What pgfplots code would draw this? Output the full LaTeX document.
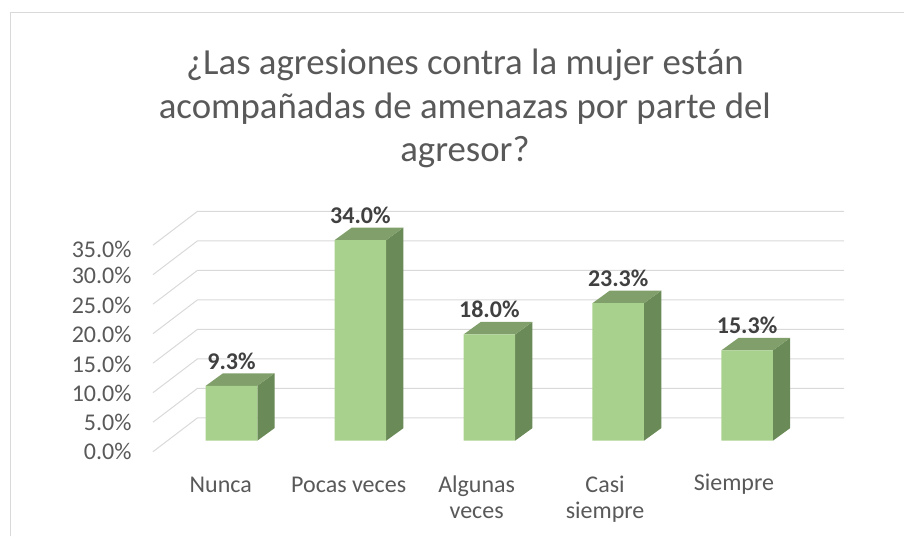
\documentclass[border=0pt]{standalone}
\usepackage{fontspec}
\setmainfont{Carlito}
\usepackage{pgfplots}
\pgfplotsset{compat=1.18}
\definecolor{frontc}{HTML}{A9D18E}
\definecolor{sidec}{HTML}{6A8A57}
\definecolor{topc}{HTML}{809F6A}
\definecolor{gridc}{HTML}{D9D9D9}
\definecolor{txtc}{HTML}{595959}
\definecolor{labc}{HTML}{404040}
\newcommand\fs[1]{\fontsize{#1}{#1}\selectfont}
% 3D faces of a bar: #1 = category index, #2 = value
\newcommand\barthreed[2]{%
  \pgfmathsetmacro\xl{#1-0.2}%
  \pgfmathsetmacro\xr{#1+0.2}%
  \pgfmathsetmacro\xb{#1+0.334}%
  \pgfmathsetmacro\xbl{#1-0.066}%
  \pgfmathsetmacro\vt{#2+2.13}%
  \edef\tmp{%
    \noexpand\addplot[fill=sidec,draw=none,forget plot] coordinates {(\xr,0) (\xb,2.13) (\xb,\vt) (\xr,#2)};
    \noexpand\addplot[fill=topc,draw=none,forget plot] coordinates {(\xl,#2) (\xr,#2) (\xb,\vt) (\xbl,\vt)};
  }\tmp}
% gridline at value #1: diagonal on the left, then back wall
\newcommand\gridthreed[1]{%
  \pgfmathsetmacro\gf{#1-1.86}%
  \pgfmathsetmacro\gb{#1+3.87}%
  \edef\tmp{%
    \noexpand\addplot[gridc,line width=1pt,forget plot] coordinates {(-0.609,\gf) (-0.264,\gb) (4.752,\gb)};
  }\tmp}
\begin{document}
\begin{tikzpicture}
\begin{axis}[
  width=905pt, height=537pt, scale only axis,
  xmin=-1.796, xmax=5.225, ymin=-16.32, ymax=74.69,
  hide axis, clip=false,
]
% bounding box
\addplot[draw=none,forget plot] coordinates {(-1.796,-16.32) (5.225,74.69)};
% chart border
\addplot[gridc,line width=1pt,forget plot] coordinates {(-1.718,-16.2) (-1.718,72.65) (5.22,72.65)};
% gridlines
\gridthreed{0}\gridthreed{5}\gridthreed{10}\gridthreed{15}
\gridthreed{20}\gridthreed{25}\gridthreed{30}\gridthreed{35}
% bars
\barthreed{0}{9.3}
\barthreed{1}{34.0}
\barthreed{2}{18.0}
\barthreed{3}{23.3}
\barthreed{4}{15.3}
\addplot[ybar, bar width=0.4, fill=frontc, draw=none,
  nodes near coords={\pgfmathprintnumber[fixed,fixed zerofill,precision=1,assume math mode=true]{\pgfplotspointmeta}\%},
  every node near coord/.append style={anchor=base, yshift=16.5pt, font=\bfseries\fs{24}, text=labc}]
  coordinates {(0,9.3) (1,34.0) (2,18.0) (3,23.3) (4,15.3)};
% y tick labels
\begin{scope}[every node/.style={anchor=base east, inner sep=0pt, font=\fs{24}, text=txtc}]
\node at (axis cs:-0.774,-3.15) {0.0\%};
\node at (axis cs:-0.774,1.81) {5.0\%};
\node at (axis cs:-0.774,6.59) {10.0\%};
\node at (axis cs:-0.774,11.64) {15.0\%};
\node at (axis cs:-0.774,16.64) {20.0\%};
\node at (axis cs:-0.774,21.64) {25.0\%};
\node at (axis cs:-0.774,26.66) {30.0\%};
\node at (axis cs:-0.774,31.07) {35.0\%};
\end{scope}
% category labels
\begin{scope}[every node/.style={anchor=base, inner sep=0pt, font=\fs{24}, text=txtc}]
\node at (axis cs:-0.083,-8.75) {Nunca};
\node at (axis cs:0.909,-8.75) {Pocas veces};
\node at (axis cs:1.902,-8.75) {Algunas};
\node at (axis cs:1.902,-13.27) {veces};
\node at (axis cs:2.898,-8.75) {Casi};
\node at (axis cs:2.898,-13.27) {siempre};
\node at (axis cs:3.898,-8.5) {Siempre};
\end{scope}
% title
\begin{scope}[every node/.style={anchor=base, inner sep=0pt, font=\fs{36.8}, text=txtc}]
\node at (axis cs:1.811,61.98) {¿Las agresiones contra la mujer están};
\node at (axis cs:1.811,54.64) {acompañadas de amenazas por parte del};
\node at (axis cs:1.811,47.29) {agresor?};
\end{scope}
\end{axis}
\end{tikzpicture}
\end{document}
